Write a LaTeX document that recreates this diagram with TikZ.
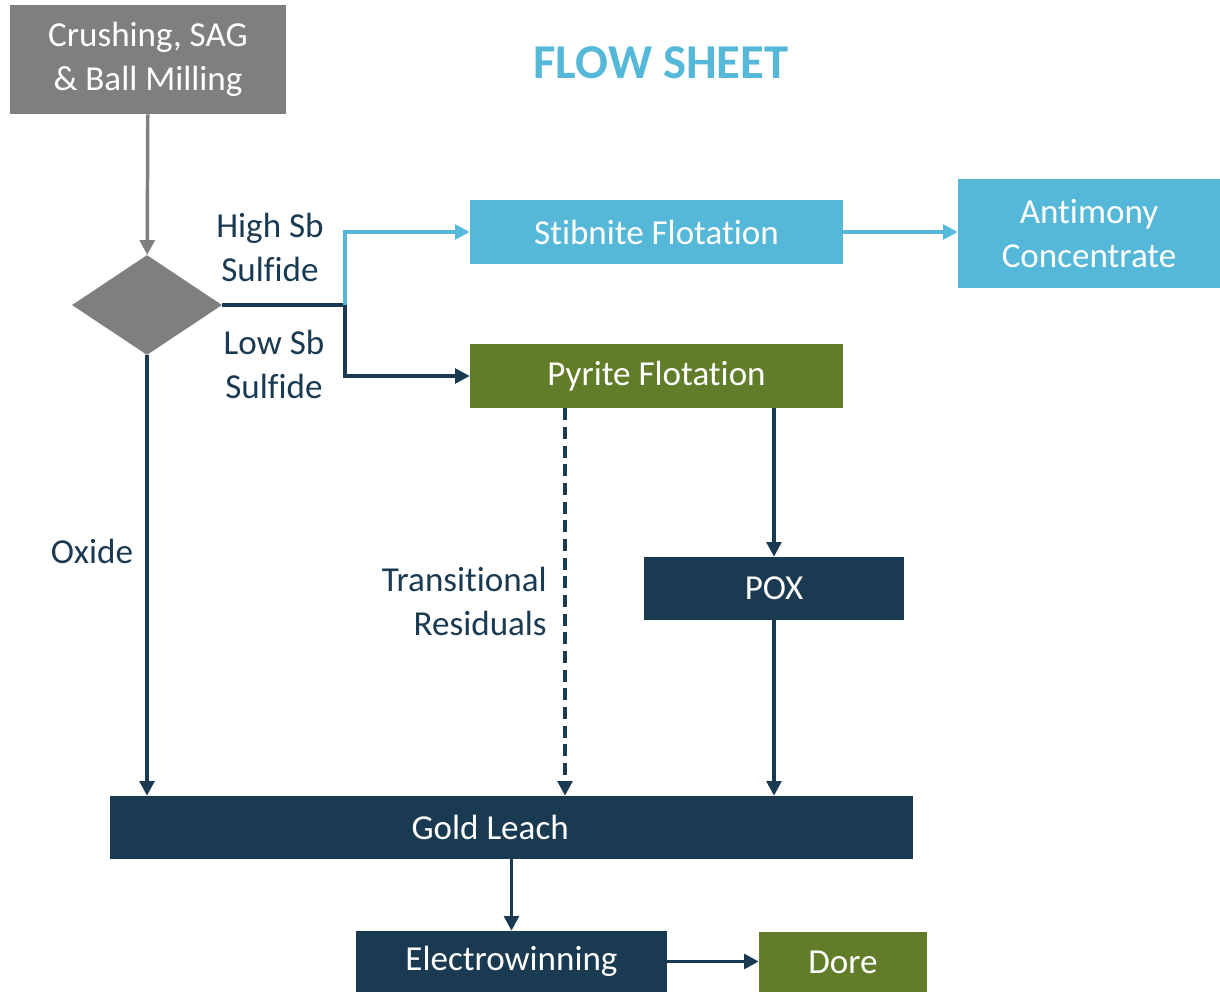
\documentclass[tikz,border=0pt]{standalone}
\usepackage{fontspec}
\setmainfont{Carlito}[Ligatures=NoCommon]
\usepackage{xcolor}
\usetikzlibrary{shapes.geometric,arrows.meta,positioning,calc}

\definecolor{sheetblue}{HTML}{55B8D8}
\definecolor{sheetgreen}{HTML}{627D2A}
\definecolor{sheetnavy}{HTML}{1A3A52}
\definecolor{sheetgray}{HTML}{7F7F7F}

\begin{document}
\begin{tikzpicture}[
    x=0.75pt, y=-0.75pt,
    font=\fontsize{26.3}{33}\selectfont,
    procbox/.style={rectangle, inner sep=0pt, text=white, align=center},
    graybox/.style={procbox, fill=sheetgray},
    bluebox/.style={procbox, fill=sheetblue},
    greenbox/.style={procbox, fill=sheetgreen},
    navybox/.style={procbox, fill=sheetnavy},
    tag/.style={text=sheetnavy, align=center, inner sep=0pt},
    flow/.style={line width=2.6pt, draw=sheetnavy, -{Triangle[width=11pt,length=11pt]}},
    plainflow/.style={line width=2.6pt, draw=sheetnavy}
]
    \useasboundingbox (0,0) rectangle (1220,993);

    % title
    \node[text=sheetblue, font=\fontsize{36.5}{40}\selectfont\bfseries] (title) at (661,63) {FLOW SHEET};

    % process boxes
    \node[graybox, minimum width=207pt, minimum height=81.75pt] (mill) at (148,59.5) {Crushing, SAG\\\& Ball Milling};
    \node[diamond, fill=sheetgray, inner sep=0pt, minimum width=112.5pt, minimum height=75pt] (split) at (147,305) {};
    \node[bluebox, minimum width=279.75pt, minimum height=48pt] (stib) at (656.5,232) {Stibnite Flotation};
    \node[bluebox, minimum width=196.5pt, minimum height=81.75pt] (sbconc) at (1089,233.5) {Antimony\\Concentrate};
    \node[greenbox, minimum width=279.75pt, minimum height=48pt] (pyrite) at (656.5,376) {Pyrite Flotation};
    \node[navybox, minimum width=195pt, minimum height=47.25pt] (pox) at (774,588.5) {POX};
    \node[navybox, minimum width=602.25pt, minimum height=47.25pt,
          label={[text=white, xshift=-16pt]center:Gold Leach}] (leach) at (511.5,827.5) {};
    \node[navybox, minimum width=233.25pt, minimum height=45.75pt] (ew) at (511.5,961.5) {Electrowinning};
    \node[greenbox, minimum width=126pt, minimum height=45pt] (dore) at (843,962) {Dore};

    % labels
    \node[tag] (high) at (270,247) {High Sb\\Sulfide};
    \node[tag] (low) at (274,364) {Low Sb\\Sulfide};
    \node[tag] (oxide) at (92,551) {Oxide};
    \node[tag, align=right, anchor=east] (trans) at (547,601) {Transitional\\Residuals};

    % connectors
    \coordinate (fork) at (345,305);
    \draw[flow, draw=sheetgray] (mill) -- (split);
    \draw[plainflow] (split.east) -- (fork);
    \draw[flow, draw=sheetblue] (fork) |- (stib.west);
    \draw[flow] (fork) |- (pyrite.west);
    \draw[flow, draw=sheetblue] (stib.east) -- (stib.east -| sbconc.west);
    \draw[flow] (split.south) -- (split.south |- leach.north);
    \draw[flow, dash pattern=on 9pt off 5pt] (pyrite.south -| 565,0) -- (leach.north -| 565,0);
    \draw[flow] (pyrite.south -| pox.north) -- (pox.north);
    \draw[flow] (pox.south) -- (pox.south |- leach.north);
    \draw[flow] (leach.south -| ew.north) -- (ew.north);
    \draw[flow] (ew.east) -- (ew.east -| dore.west);
\end{tikzpicture}
\end{document}
